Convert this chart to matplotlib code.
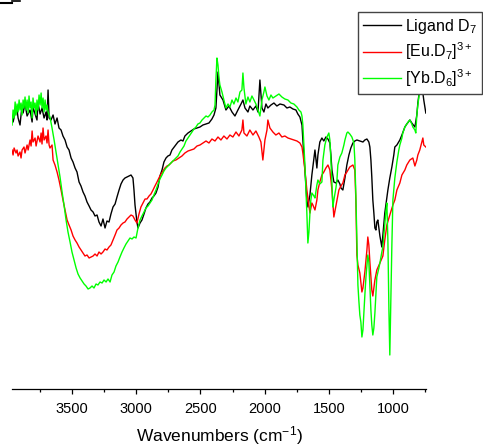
import matplotlib
matplotlib.use("Agg")
import matplotlib.pyplot as plt
from matplotlib.lines import Line2D

plt.rcParams['font.family'] = ['Liberation Sans', 'DejaVu Sans']
plt.rcParams['mathtext.fontset'] = 'custom'
plt.rcParams['mathtext.rm'] = 'Liberation Sans'
plt.rcParams['mathtext.it'] = 'Liberation Sans:italic'

# --- data (wavenumber cm-1, transmittance a.u.) ---
ligand_wn = [3964, 3956, 3940, 3925, 3917, 3902, 3886, 3878, 3863, 3847, 3824, 3808, 3801, 3785, 3770, 3762,
             3746, 3731, 3715, 3700, 3692, 3684, 3676, 3661, 3645, 3630, 3614, 3599, 3583, 3568, 3552, 3536,
             3521, 3505, 3490, 3474, 3459, 3443, 3428, 3412, 3397, 3381, 3365, 3350, 3334, 3319, 3303, 3288,
             3272, 3257, 3241, 3226, 3210, 3195, 3179, 3163, 3148, 3132, 3117, 3101, 3086, 3070, 3055, 3039,
             3024, 3016, 3008, 2993, 2985, 2969, 2954, 2938, 2923, 2907, 2892, 2876, 2861, 2845, 2829, 2814,
             2798, 2783, 2767, 2752, 2736, 2721, 2697, 2674, 2651, 2635, 2620, 2596, 2573, 2550, 2526, 2503,
             2480, 2456, 2433, 2410, 2394, 2379, 2363, 2348, 2324, 2301, 2278, 2254, 2231, 2208, 2184, 2169,
             2153, 2130, 2115, 2091, 2068, 2052, 2037, 2021, 2006, 1990, 1975, 1951, 1928, 1905, 1881, 1850,
             1827, 1804, 1780, 1757, 1742, 1726, 1710, 1703, 1687, 1672, 1664, 1648, 1633, 1617, 1609, 1594,
             1586, 1571, 1555, 1540, 1524, 1508, 1493, 1485, 1477, 1462, 1446, 1431, 1415, 1407, 1392, 1376,
             1361, 1345, 1330, 1314, 1299, 1283, 1260, 1236, 1221, 1205, 1190, 1182, 1174, 1167, 1159, 1151,
             1143, 1135, 1128, 1120, 1112, 1104, 1089, 1081, 1066, 1050, 1042, 1027, 1011, 996, 988, 972,
             949, 933, 910, 895, 871, 856, 832, 817, 809, 801, 794, 778, 770, 763, 747]
ligand_t = [272, 267, 276, 279, 271, 264, 284, 276, 285, 273, 279, 267, 282, 275, 269, 286,
            275, 281, 271, 277, 269, 299, 271, 269, 274, 265, 271, 261, 259, 253, 249, 242,
            239, 231, 227, 221, 217, 207, 203, 197, 193, 187, 183, 179, 177, 173, 174, 167,
            163, 170, 161, 168, 167, 175, 182, 185, 192, 199, 205, 209, 211, 212, 213, 214,
            211, 199, 184, 167, 161, 166, 169, 175, 181, 185, 187, 191, 193, 196, 202, 213,
            219, 227, 231, 233, 234, 239, 243, 247, 249, 248, 253, 256, 258, 260, 261, 262,
            264, 265, 266, 270, 274, 281, 317, 294, 289, 279, 283, 277, 273, 279, 285, 289,
            281, 277, 283, 279, 283, 277, 309, 281, 277, 285, 281, 284, 286, 283, 285, 284,
            281, 282, 280, 279, 275, 272, 264, 249, 219, 189, 182, 194, 214, 231, 239, 221,
            234, 247, 251, 248, 252, 250, 246, 234, 219, 207, 206, 209, 205, 201, 199, 211,
            224, 234, 241, 246, 248, 249, 248, 247, 249, 250, 247, 242, 229, 212, 189, 176,
            161, 159, 167, 169, 161, 153, 142, 154, 176, 191, 199, 211, 222, 234, 242, 244,
            249, 254, 262, 265, 269, 266, 262, 274, 286, 294, 302, 299, 296, 289, 276]

eu_wn = [3964, 3956, 3948, 3933, 3925, 3917, 3902, 3894, 3886, 3871, 3863, 3847, 3839, 3824, 3816, 3808,
         3801, 3785, 3777, 3762, 3746, 3738, 3731, 3723, 3715, 3700, 3692, 3684, 3676, 3669, 3653, 3645,
         3630, 3614, 3599, 3583, 3568, 3552, 3536, 3521, 3505, 3490, 3474, 3459, 3443, 3428, 3412, 3397,
         3381, 3365, 3350, 3334, 3319, 3303, 3288, 3272, 3257, 3241, 3226, 3210, 3195, 3179, 3163, 3148,
         3132, 3117, 3101, 3086, 3070, 3055, 3039, 3024, 3008, 2993, 2977, 2962, 2946, 2930, 2915, 2899,
         2884, 2868, 2853, 2837, 2822, 2806, 2791, 2775, 2759, 2744, 2728, 2713, 2690, 2666, 2643, 2620,
         2596, 2573, 2550, 2526, 2503, 2480, 2456, 2433, 2410, 2386, 2363, 2340, 2317, 2293, 2270, 2247,
         2223, 2200, 2177, 2169, 2161, 2138, 2115, 2091, 2068, 2045, 2029, 2014, 1998, 1982, 1975, 1959,
         1936, 1913, 1889, 1866, 1843, 1819, 1796, 1773, 1749, 1726, 1710, 1703, 1687, 1672, 1656, 1648,
         1633, 1625, 1609, 1594, 1586, 1571, 1555, 1540, 1524, 1508, 1493, 1477, 1462, 1446, 1438, 1423,
         1407, 1392, 1376, 1361, 1338, 1314, 1299, 1291, 1283, 1275, 1260, 1244, 1236, 1221, 1205, 1198,
         1190, 1182, 1167, 1159, 1143, 1128, 1104, 1081, 1066, 1050, 1027, 1003, 988, 972, 949, 933,
         910, 895, 871, 848, 832, 817, 809, 794, 778, 770, 763, 747]
eu_t = [239, 234, 241, 236, 239, 233, 237, 231, 239, 242, 236, 244, 239, 249, 243, 258,
        247, 251, 243, 253, 247, 256, 245, 261, 249, 253, 246, 259, 244, 241, 244, 229,
        224, 217, 209, 199, 189, 179, 169, 164, 159, 153, 149, 146, 142, 139, 136, 133,
        134, 131, 132, 133, 135, 133, 137, 135, 137, 140, 139, 142, 144, 149, 154, 159,
        161, 164, 166, 167, 170, 172, 174, 173, 169, 166, 175, 182, 186, 190, 190, 193,
        195, 199, 203, 207, 211, 215, 218, 221, 223, 224, 226, 228, 229, 231, 233, 236,
        238, 239, 240, 243, 244, 246, 248, 246, 250, 248, 252, 249, 253, 250, 254, 252,
        257, 253, 259, 269, 256, 253, 259, 254, 258, 252, 247, 229, 249, 259, 269, 261,
        257, 254, 256, 252, 253, 251, 250, 249, 248, 246, 242, 236, 219, 199, 184, 176,
        186, 184, 179, 189, 199, 207, 214, 217, 221, 224, 219, 199, 172, 183, 189, 199,
        203, 206, 214, 217, 222, 224, 219, 189, 134, 124, 116, 97, 101, 117, 139, 152,
        144, 127, 99, 93, 109, 119, 126, 133, 149, 164, 174, 184, 189, 199, 206, 214,
        219, 224, 229, 231, 223, 229, 234, 239, 247, 251, 244, 242]

yb_wn = [3964, 3956, 3948, 3940, 3933, 3925, 3917, 3909, 3902, 3894, 3886, 3878, 3871, 3863, 3855, 3847,
         3839, 3832, 3824, 3816, 3808, 3801, 3793, 3785, 3777, 3770, 3762, 3754, 3746, 3738, 3731, 3723,
         3715, 3707, 3700, 3692, 3684, 3669, 3653, 3637, 3622, 3606, 3591, 3575, 3560, 3544, 3529, 3513,
         3498, 3482, 3466, 3451, 3435, 3420, 3404, 3389, 3373, 3358, 3342, 3327, 3311, 3296, 3280, 3264,
         3249, 3233, 3218, 3202, 3187, 3171, 3156, 3140, 3125, 3109, 3094, 3078, 3062, 3047, 3031, 3016,
         3000, 2985, 2969, 2954, 2938, 2923, 2907, 2892, 2876, 2861, 2845, 2829, 2814, 2798, 2783, 2767,
         2752, 2736, 2721, 2705, 2690, 2674, 2658, 2643, 2627, 2612, 2596, 2581, 2565, 2550, 2534, 2519,
         2503, 2487, 2472, 2456, 2441, 2425, 2410, 2394, 2386, 2379, 2371, 2363, 2355, 2348, 2332, 2317,
         2301, 2285, 2270, 2254, 2239, 2223, 2208, 2192, 2177, 2169, 2161, 2146, 2130, 2115, 2099, 2083,
         2068, 2052, 2037, 2021, 2006, 1998, 1982, 1967, 1951, 1936, 1913, 1889, 1866, 1843, 1819, 1796,
         1773, 1749, 1734, 1718, 1710, 1703, 1695, 1687, 1679, 1672, 1664, 1656, 1648, 1641, 1633, 1617,
         1609, 1594, 1586, 1571, 1555, 1547, 1532, 1516, 1501, 1493, 1485, 1477, 1470, 1462, 1446, 1438,
         1431, 1415, 1400, 1384, 1376, 1361, 1353, 1338, 1322, 1306, 1299, 1291, 1283, 1275, 1268, 1260,
         1252, 1244, 1236, 1229, 1221, 1213, 1205, 1198, 1190, 1182, 1174, 1167, 1159, 1151, 1143, 1135,
         1128, 1112, 1104, 1089, 1081, 1066, 1058, 1050, 1042, 1034, 1027, 1019, 1011, 1003, 988, 972,
         957, 949, 933, 926, 910, 895, 879, 871, 856, 848, 832, 825, 817, 809, 801, 794, 786, 778]
yb_t = [264, 279, 271, 287, 274, 285, 277, 289, 279, 286, 274, 289, 281, 292, 279, 289,
        276, 293, 281, 287, 271, 291, 281, 286, 274, 289, 279, 294, 284, 296, 281, 291,
        277, 289, 279, 284, 277, 272, 261, 249, 237, 224, 212, 197, 184, 169, 157, 147,
        137, 129, 121, 115, 111, 108, 105, 103, 100, 101, 103, 101, 105, 104, 107, 106,
        109, 107, 110, 107, 114, 117, 123, 127, 132, 137, 141, 145, 148, 151, 150, 152,
        151, 161, 169, 173, 177, 181, 183, 186, 189, 194, 199, 205, 210, 214, 218, 221,
        223, 225, 227, 229, 231, 233, 237, 240, 243, 248, 251, 254, 257, 260, 262, 265,
        266, 269, 271, 273, 272, 274, 277, 279, 284, 309, 331, 324, 311, 304, 297, 289,
        281, 285, 282, 289, 285, 291, 287, 297, 299, 316, 301, 285, 292, 287, 293, 289,
        285, 279, 273, 289, 297, 302, 293, 289, 294, 291, 293, 295, 292, 290, 289, 286,
        285, 282, 279, 277, 273, 264, 244, 224, 199, 176, 146, 157, 176, 189, 196, 193,
        191, 204, 209, 205, 207, 229, 244, 252, 256, 249, 229, 206, 182, 189, 201, 209,
        224, 232, 236, 244, 249, 256, 257, 255, 252, 246, 229, 194, 149, 104, 89, 74,
        67, 52, 59, 76, 94, 111, 124, 134, 127, 104, 79, 64, 54, 61, 76, 96,
        112, 121, 126, 137, 142, 164, 177, 186, 149, 79, 34, 89, 144, 189, 211, 227,
        239, 244, 251, 256, 262, 265, 268, 269, 265, 262, 259, 256, 274, 284, 292, 301, 309, 319]

labels = ['Ligand D$_\\mathregular{7}$',
          '[Eu.D$_\\mathregular{7}$]$^\\mathregular{3+}$',
          '[Yb.D$_\\mathregular{6}$]$^\\mathregular{3+}$']
colors = ['black', '#ff0000', '#00ff00']

W, H = 483, 446
fig = plt.figure(figsize=(W / 100, H / 100), dpi=100)
ax = fig.add_axes([12.3 / W, (H - 389) / H, (425.7 - 12.3) / W, 389 / H])

for wn, t, lab, c in zip([ligand_wn, eu_wn, yb_wn], [ligand_t, eu_t, yb_t], labels, colors):
    ax.plot(wn, t, color=c, lw=1.0, label=lab)

ax.set_xlim(3962, 748)
ax.set_ylim(0, 389)
ax.set_xticks([3500, 3000, 2500, 2000, 1500, 1000])
ax.set_xticks([3750, 3250, 2750, 2250, 1750, 1250, 750], minor=True)
ax.set_yticks([])
for s in ['top', 'left', 'right']:
    ax.spines[s].set_visible(False)
ax.spines['bottom'].set_linewidth(0.9)
ax.tick_params(axis='x', which='major', length=3.5, width=0.9, labelsize=10.5, pad=6)
ax.tick_params(axis='x', which='minor', length=2.5, width=0.9)
ax.set_xlabel('Wavenumbers (cm$^\\mathregular{-1}$)', fontsize=12.5, labelpad=6)

leg = ax.legend(loc='upper left', bbox_to_anchor=(358 / W, 1 - 12 / H), bbox_transform=fig.transFigure,
                fontsize=11.5, frameon=True, fancybox=False, framealpha=1, edgecolor='#444444',
                handlelength=2.4, handletextpad=0.25, borderpad=0.3, labelspacing=0.3, borderaxespad=0)
leg.get_frame().set_linewidth(1.0)

# small stray mark at the top left corner of the original
fig.add_artist(Line2D([0, 12 / W], [1 - 2.5 / H, 1 - 2.5 / H], color='black', lw=1.5))
fig.add_artist(Line2D([12 / W, 20 / W], [1 - 0.8 / H, 1 - 0.8 / H], color='black', lw=1.2))

fig.savefig('out.png', dpi=100)
